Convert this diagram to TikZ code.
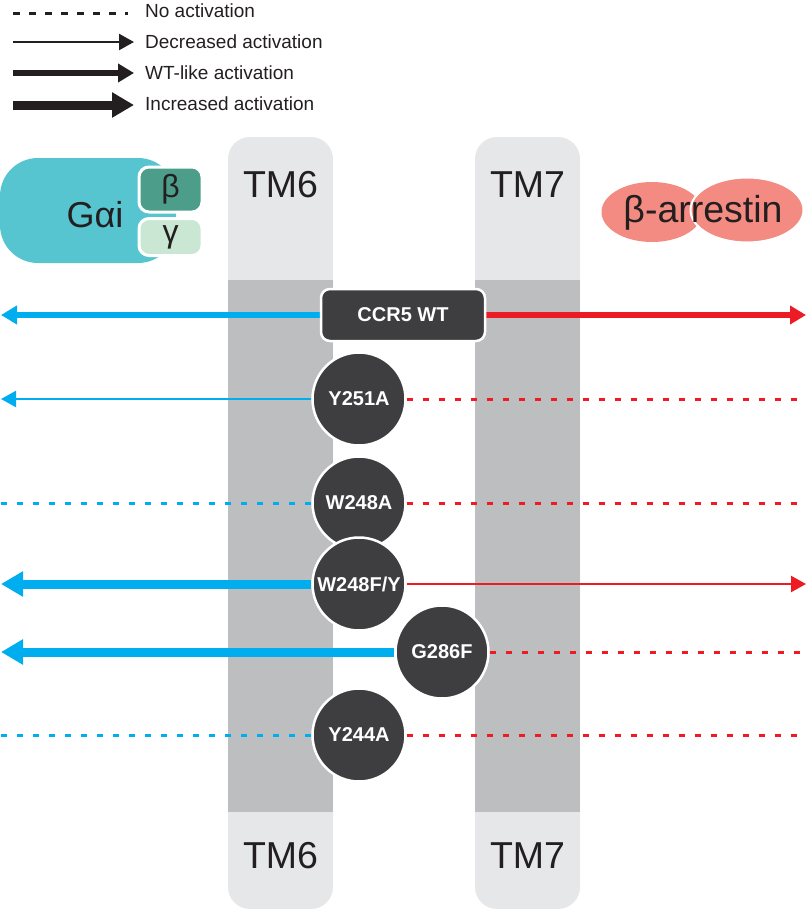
\documentclass[tikz,border=0pt]{standalone}
\usepackage{fontspec}
\setmainfont{Liberation Sans}
\usetikzlibrary{arrows.meta,shapes.geometric}
\definecolor{cblue}{RGB}{0,174,239}
\definecolor{cred}{RGB}{237,28,36}
\definecolor{tmlight}{RGB}{230,231,232}
\definecolor{tmdark}{RGB}{188,190,192}
\definecolor{resid}{RGB}{62,61,64}
\definecolor{gaicol}{RGB}{86,197,208}
\definecolor{gbeta}{RGB}{76,158,139}
\definecolor{ggamma}{RGB}{201,231,211}
\definecolor{arrcol}{RGB}{243,139,130}
\definecolor{txt}{RGB}{35,31,32}
\pgfdeclarelayer{back}
\pgfdeclarelayer{mid}
\pgfsetlayers{back,mid,main}
\begin{document}
\begin{tikzpicture}[x=1pt,y=-1pt,
 thinarr/.style={line width=2.3pt,-{Triangle[length=15pt,width=16pt]}},
 wtarr/.style={line width=5.5pt,-{Triangle[length=16pt,width=18pt]}},
 incarr/.style={line width=9pt,-{Triangle[length=22pt,width=24pt]}},
 noact/.style={line width=3pt,dash pattern=on 6.5pt off 9.5pt},
 resnode/.style={circle,fill=resid,draw=white,line width=2.5pt,minimum size=93pt,inner sep=0pt,text=white,font=\bfseries\fontsize{20}{22}\selectfont},
 tmlabel/.style={font=\fontsize{37.5}{40}\selectfont,text=txt,inner sep=0pt},
 legtext/.style={anchor=west,font=\fontsize{19}{21}\selectfont,text=txt,inner sep=0pt},
 subunit/.style={draw=white,line width=3pt,rounded corners=10pt,minimum width=63pt,inner sep=0pt,font=\fontsize{32}{34}\selectfont,text=txt},
]
\useasboundingbox (0,0) rectangle (809,910);

% TM helices
\begin{pgfonlayer}{back}
\fill[tmlight,rounded corners=22pt] (228,137) rectangle (333,909);
\fill[tmdark] (228,280) rectangle (333,812);
\fill[tmlight,rounded corners=22pt] (475,137) rectangle (580,909);
\fill[tmdark] (475,280) rectangle (580,812);
\end{pgfonlayer}
\node[tmlabel] (tm6t) at (280.5,185) {TM6};
\node[tmlabel] (tm7t) at (527.5,185) {TM7};
\node[tmlabel] (tm6b) at (280.5,856) {TM6};
\node[tmlabel] (tm7b) at (527.5,856) {TM7};

% Legend
\coordinate (l1a) at (13,13); \coordinate (l1b) at (128,13);
\coordinate (l2a) at (13,42); \coordinate (l2b) at (134,42);
\coordinate (l3a) at (13,73); \coordinate (l3b) at (134,73);
\coordinate (l4a) at (13,105); \coordinate (l4b) at (134,105);
\draw[noact,txt] (l1a) -- (l1b);
\draw[thinarr,txt] (l2a) -- (l2b);
\draw[wtarr,txt] (l3a) -- (l3b);
\draw[incarr,txt] (l4a) -- (l4b);
\node[legtext] (t1) at (145,11) {No activation};
\node[legtext] (t2) at (145,42) {Decreased activation};
\node[legtext] (t3) at (145,73) {WT-like activation};
\node[legtext] (t4) at (145,104) {Increased activation};

% G protein
\node[fill=gaicol,rounded corners=38pt,minimum width=176pt,minimum height=105pt,inner sep=0pt] (gai) at (88,210.5) {};
\node[font=\fontsize{36}{38}\selectfont,text=txt,inner sep=0pt] (gaitext) at (95,215) {Gαi};
\node[subunit,fill=gbeta,minimum height=45pt] (beta) at (170.5,189.5) {β};
\node[subunit,fill=ggamma,minimum height=37pt] (gamma) at (170.5,237) {γ};

% beta-arrestin
\node[ellipse,fill=arrcol,minimum width=101pt,minimum height=60pt,inner sep=0pt] (arrL) at (652,212) {};
\node[ellipse,fill=arrcol,draw=white,line width=2pt,minimum width=113pt,minimum height=65pt,inner sep=0pt] (arrR) at (747,210) {};
\node[font=\fontsize{37.5}{40}\selectfont,text=txt,inner sep=0pt] (arrtext) at (703,213) {β-arrestin};

% Receptor variants
\node[fill=resid,draw=white,line width=2.5pt,rounded corners=9pt,minimum width=164pt,minimum height=52pt,inner sep=0pt,text=white,font=\bfseries\fontsize{20}{22}\selectfont] (wt) at (403,315) {CCR5 WT};
\node[resnode] (y251) at (359,399) {Y251A};
\node[resnode] (w248a) at (359,503) {W248A};
\node[resnode] (w248f) at (359,584) {W248F/Y};
\node[resnode] (g286) at (442,652) {G286F};
\node[resnode] (y244) at (359,735) {Y244A};

% end points
\coordinate (wtL) at (1,315);   \coordinate (wtR) at (806,315);
\coordinate (y251L) at (1,399); \coordinate (y251R) at (797,399);
\coordinate (w248aL) at (0,503); \coordinate (w248aR) at (797,503);
\coordinate (w248fL) at (1,584); \coordinate (w248fR) at (806,584);
\coordinate (g286L) at (1,652); \coordinate (g286R) at (805,652);
\coordinate (y244L) at (0,735); \coordinate (y244R) at (797,735);

\begin{pgfonlayer}{mid}
\draw[wtarr,cblue] (wt) -- (wtL);
\draw[wtarr,cred] (wt) -- (wtR);
\draw[thinarr,cblue] (y251) -- (y251L);
\draw[noact,cred] (y251) -- (y251R);
\draw[noact,cblue] (w248a) -- (w248aL);
\draw[noact,cred] (w248a) -- (w248aR);
\draw[incarr,cblue] (w248f) -- (w248fL);
\draw[thinarr,cred] (w248f) -- (w248fR);
\draw[incarr,cblue] (g286) -- (g286L);
\draw[noact,cred] (g286) -- (g286R);
\draw[noact,cblue] (y244) -- (y244L);
\draw[noact,cred] (y244) -- (y244R);
\end{pgfonlayer}
\end{tikzpicture}
\end{document}
